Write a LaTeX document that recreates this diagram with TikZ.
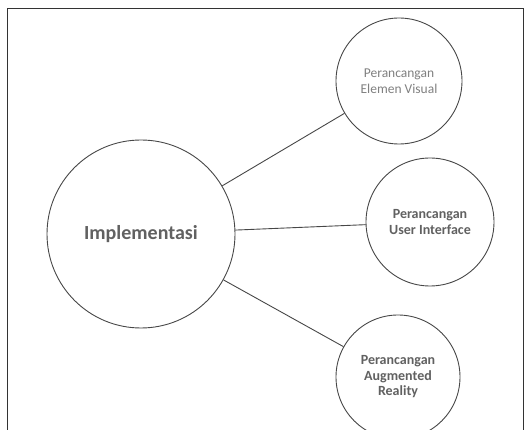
\documentclass[tikz,border=0pt]{standalone}
\usepackage{fontspec}
\setmainfont{Carlito}
\begin{document}
\begin{tikzpicture}[x=1pt,y=-1pt,
  bubble/.style={circle, draw=black!72, line width=0.9pt, fill=white, inner sep=0pt, align=center, text=black!62},
  small/.style={font=\fontsize{13.5}{15.5}\selectfont},
  smallbold/.style={font=\bfseries\fontsize{14}{15.5}\selectfont},
  link/.style={draw=black!72, line width=0.9pt}]
\useasboundingbox (0,0) rectangle (531,430);
% outer frame, open at the bottom
\draw[black!80, line width=0.8pt] (7,432) -- (7,8) -- (523,8) -- (523,432);
% central topic and its three branches
\node[bubble, minimum size=188pt, font=\bfseries\fontsize{20}{24}\selectfont] (impl) at (141,234) {Implementasi};
\node[bubble, minimum size=126pt, small, text=black!50] (visual) at (399,81) {Perancangan\\Elemen Visual};
\node[bubble, minimum size=128pt, smallbold] (ui) at (430,222) {Perancangan\\User Interface};
\node[bubble, minimum size=124pt, smallbold] (ar) at (398,377) {Perancangan\\Augmented\\Reality};
\draw[link] (impl) -- (visual);
\draw[link] (impl) -- (ui);
\draw[link] (impl) -- (ar);
\end{tikzpicture}
\end{document}
